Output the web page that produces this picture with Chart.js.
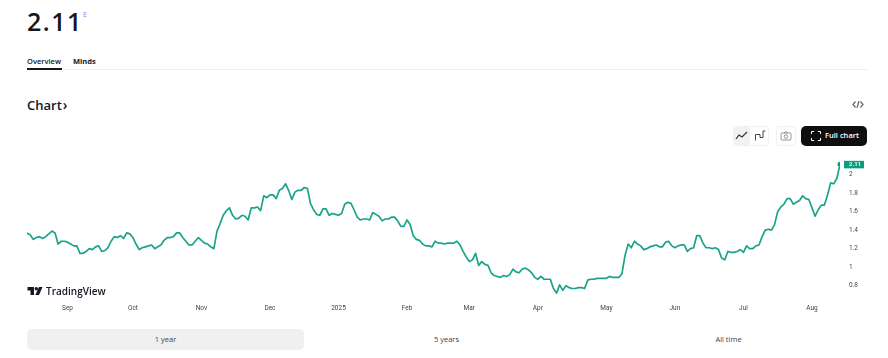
<!DOCTYPE html>
<html>
<head>
<meta charset="utf-8">
<script src="https://cdn.jsdelivr.net/npm/chart.js@4"></script>
<style>
    html, body { margin: 0; padding: 0; background: #fff; }
    body { width: 888px; height: 358px; position: relative; overflow: hidden; font-family: "Open Sans", sans-serif; color: #131722; }
    .abs { position: absolute; white-space: nowrap; }
    #chartWrap { position: absolute; left: 0; top: 150px; width: 888px; height: 170px; }
    .rangeTab { position: absolute; top: 329px; height: 21px; line-height: 21px; text-align: center; font-size: 7.5px; color: #444; }
</style>
</head>
<body>
<div class="abs" style="left:27px;top:4px;font-size:25px;font-weight:600;letter-spacing:1.5px;line-height:34px;">2.11</div>
<div class="abs" style="left:83px;top:10px;font-size:7px;color:#b06ff0;">E</div>

<div class="abs" style="left:27px;top:56px;font-size:7.5px;font-weight:600;">Overview</div>
<div class="abs" style="left:73px;top:56px;font-size:7.5px;font-weight:700;">Minds</div>
<div class="abs" style="left:27px;top:69px;width:840px;height:1px;background:#ececec;"></div>
<div class="abs" style="left:27px;top:68px;width:35px;height:2px;background:#131722;"></div>

<div class="abs" style="left:27px;top:95px;font-size:13px;font-weight:600;">Chart<span style="font-size:14px;margin-left:1px;">›</span></div>
<svg class="abs" style="left:852px;top:100px;" width="12" height="9" viewBox="0 0 12 9" fill="none" stroke="#666" stroke-width="1.2">
    <path d="M3.5 1.5 L1 4.5 L3.5 7.5 M8.5 1.5 L11 4.5 L8.5 7.5 M7 1 L5 8"/>
</svg>

<!-- toolbar above the chart -->
<div class="abs" style="left:733px;top:126px;width:36px;height:20px;border:1px solid #f1f1f1;border-radius:4px;box-sizing:border-box;"></div>
<div class="abs" style="left:734px;top:127px;width:16px;height:18px;background:#f2f2f2;border-radius:3px;"></div>
<svg class="abs" style="left:735px;top:130px;" width="13" height="11" viewBox="0 0 13 11" fill="none" stroke="#333" stroke-width="1.2">
    <path d="M1 9 L4 5 L7 7 L12 2"/>
</svg>
<svg class="abs" style="left:754px;top:130px;" width="13" height="11" viewBox="0 0 13 11" fill="none" stroke="#444" stroke-width="1">
    <path d="M1.5 10.5 V4.5 H6 V7.5 H9 V1 H11.5"/>
</svg>
<div class="abs" style="left:776px;top:126px;width:20px;height:20px;border:1px solid #f1f1f1;border-radius:4px;box-sizing:border-box;"></div>
<svg class="abs" style="left:780px;top:131px;" width="12" height="10" viewBox="0 0 12 10" fill="none" stroke="#888" stroke-width="0.9">
    <rect x="1" y="2" width="10" height="7" rx="1"/><circle cx="6" cy="5.5" r="1.8"/><path d="M4 2 L5 1 H7 L8 2"/>
</svg>
<div class="abs" style="left:801px;top:126px;width:66px;height:20px;background:#0f0f0f;border-radius:5px;"></div>
<svg class="abs" style="left:811px;top:131px;" width="10" height="10" viewBox="0 0 10 10" fill="none" stroke="#fff" stroke-width="1">
    <path d="M0.5 3 V0.5 H3 M7 0.5 H9.5 V3 M9.5 7 V9.5 H7 M3 9.5 H0.5 V7"/>
</svg>
<div class="abs" style="left:825px;top:130px;font-size:7.5px;font-weight:600;color:#fff;">Full chart</div>

<div id="chartWrap"><canvas id="priceChart"></canvas></div>

<!-- TradingView mark -->
<svg class="abs" style="left:27px;top:287px;" width="16" height="9" viewBox="0 0 15 9" fill="#131722">
    <path d="M0 0 H6.5 V8 H3 V3.5 H0 Z"/><circle cx="8.8" cy="1.8" r="1.7"/><path d="M11.5 0 H15 L11.5 8 H7.8 Z"/>
</svg>
<div class="abs" style="left:46px;top:284px;font-size:10px;font-weight:600;line-height:14px;">TradingView</div>

<div class="abs" style="left:27px;top:329px;width:277px;height:21px;background:#f0f0f0;border-radius:5px;"></div>
<div class="rangeTab" style="left:27px;width:277px;">1 year</div>
<div class="rangeTab" style="left:308px;width:277px;">5 years</div>
<div class="rangeTab" style="left:590px;width:277px;">All time</div>

<script>
// Daily closes, one per trading bar
const closes = [
    1.37, 1.35, 1.30, 1.32, 1.33, 1.31, 1.33, 1.36, 1.39, 1.37,
    1.25, 1.28, 1.28, 1.27, 1.25, 1.23, 1.23, 1.15, 1.15, 1.17,
    1.20, 1.19, 1.22, 1.23, 1.17, 1.18, 1.21, 1.28, 1.33, 1.32,
    1.34, 1.31, 1.37, 1.36, 1.32, 1.25, 1.19, 1.21, 1.22, 1.23,
    1.24, 1.20, 1.22, 1.24, 1.29, 1.32, 1.32, 1.33, 1.37, 1.37,
    1.32, 1.28, 1.24, 1.24, 1.28, 1.32, 1.29, 1.26, 1.25, 1.22,
    1.20, 1.39, 1.47, 1.56, 1.61, 1.64, 1.56, 1.52, 1.53, 1.56,
    1.55, 1.51, 1.64, 1.64, 1.65, 1.61, 1.77, 1.75, 1.78, 1.78,
    1.74, 1.83, 1.85, 1.90, 1.83, 1.73, 1.81, 1.83, 1.83, 1.86,
    1.85, 1.69, 1.62, 1.57, 1.56, 1.63, 1.63, 1.56, 1.58, 1.57,
    1.56, 1.58, 1.68, 1.70, 1.69, 1.62, 1.54, 1.51, 1.52, 1.52,
    1.51, 1.59, 1.57, 1.55, 1.50, 1.52, 1.52, 1.54, 1.54, 1.50,
    1.44, 1.44, 1.51, 1.46, 1.34, 1.30, 1.29, 1.25, 1.23, 1.23,
    1.22, 1.28, 1.26, 1.26, 1.25, 1.26, 1.26, 1.26, 1.28, 1.24,
    1.17, 1.11, 1.06, 1.08, 1.15, 1.02, 1.06, 1.03, 1.02, 0.94,
    0.91, 0.90, 0.89, 0.91, 0.90, 0.92, 0.98, 0.95, 0.94, 0.98,
    0.99, 0.97, 0.94, 0.89, 0.87, 0.90, 0.87, 0.87, 0.87, 0.77,
    0.72, 0.81, 0.75, 0.80, 0.78, 0.77, 0.77, 0.78, 0.78, 0.77,
    0.86, 0.87, 0.87, 0.88, 0.88, 0.88, 0.88, 0.90, 0.89, 0.89,
    0.89, 0.93, 1.13, 1.25, 1.21, 1.28, 1.25, 1.23, 1.19, 1.20,
    1.22, 1.23, 1.24, 1.22, 1.22, 1.27, 1.28, 1.23, 1.21, 1.23,
    1.24, 1.24, 1.17, 1.20, 1.21, 1.34, 1.34, 1.26, 1.21, 1.21,
    1.20, 1.21, 1.19, 1.10, 1.08, 1.17, 1.16, 1.16, 1.17, 1.19,
    1.16, 1.23, 1.20, 1.20, 1.23, 1.24, 1.33, 1.40, 1.41, 1.40,
    1.46, 1.60, 1.65, 1.68, 1.74, 1.74, 1.68, 1.70, 1.72, 1.77,
    1.74, 1.73, 1.64, 1.55, 1.62, 1.67, 1.67, 1.78, 1.91, 1.90,
    1.96, 2.11
];

// Bars where each month label sits on the time axis
const monthBars = [13, 34, 56, 78, 100, 122, 142, 164, 186, 208, 230, 252];
const monthLabels = ["Sep", "Oct", "Nov", "Dec", "2025", "Feb", "Mar", "Apr", "May", "Jun", "Jul", "Aug"];
const priceTicks = [0.8, 1, 1.2, 1.4, 1.6, 1.8, 2];
const lastPrice = closes[closes.length - 1];

const lineColor = "#1aa38a";
const axisFont = { family: "Roboto", size: 6.5 };

// Draws the green last price tag next to the axis
const lastPriceTag = {
    id: "lastPriceTag",
    afterDraw(chart) {
        const ctx = chart.ctx;
        const y = chart.scales.y.getPixelForValue(lastPrice);
        const left = chart.chartArea.right + 4;
        ctx.save();
        ctx.fillStyle = "#0c9c80";
        ctx.fillRect(left, y - 3.5, 20, 7.5);
        ctx.fillStyle = "#fff";
        ctx.font = "600 6px Roboto";
        ctx.textAlign = "left";
        ctx.textBaseline = "middle";
        ctx.fillText(lastPrice.toFixed(2), left + 5, y + 0.3);
        ctx.restore();
    }
};

new Chart(document.getElementById("priceChart").getContext("2d"), {
    type: "line",
    data: {
        datasets: [{
            data: closes.map((close, bar) => ({ x: bar, y: close })),
            borderColor: lineColor,
            borderWidth: 1.7,
            borderJoinStyle: "round",
            tension: 0,
            fill: false,
            pointRadius: ctx => ctx.dataIndex === closes.length - 1 ? 2.5 : 0,
            pointBackgroundColor: "#0c9c80",
            pointBorderWidth: 0,
        }],
    },
    plugins: [lastPriceTag],
    options: {
        responsive: true,
        maintainAspectRatio: false,
        animation: false,
        layout: { padding: { top: 6, left: 27, right: 0, bottom: 0 } },
        plugins: { legend: { display: false }, tooltip: { enabled: false } },
        scales: {
            x: {
                type: "linear",
                min: 0,
                max: closes.length - 1,
                grid: { display: false, drawTicks: false },
                border: { display: false },
                afterBuildTicks: scale => { scale.ticks = monthBars.map(bar => ({ value: bar })); },
                afterFit: scale => { scale.height = 25; scale.paddingLeft = 0; scale.paddingRight = 0; },
                ticks: {
                    autoSkip: false,
                    maxRotation: 0,
                    padding: 9,
                    color: "#444",
                    font: axisFont,
                    callback: value => monthLabels[monthBars.indexOf(value)],
                },
            },
            y: {
                position: "right",
                min: 0.7,
                max: 2.2,
                grid: { display: false, drawTicks: false },
                border: { display: false },
                afterBuildTicks: scale => { scale.ticks = priceTicks.map(price => ({ value: price })); },
                afterFit: scale => { scale.width = 48; scale.paddingTop = 0; scale.paddingBottom = 0; },
                ticks: {
                    padding: 9,
                    color: "#444",
                    font: axisFont,
                    callback: value => String(value),
                },
            },
        },
    },
});
</script>
</body>
</html>
